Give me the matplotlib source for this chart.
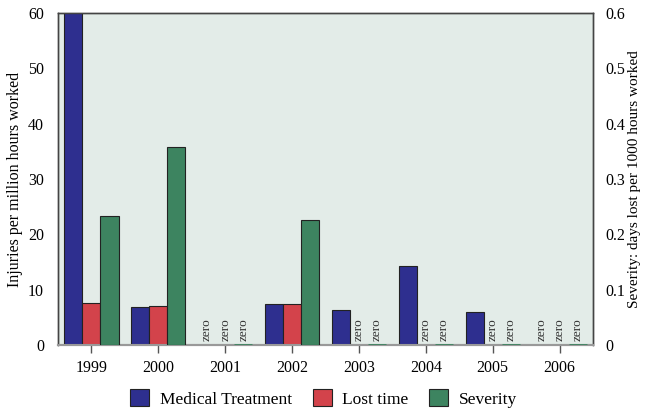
import numpy as np
import matplotlib
matplotlib.use("Agg")
import matplotlib.pyplot as plt

plt.rcParams['font.family'] = ['Liberation Serif', 'DejaVu Serif']

years = ['1999', '2000', '2001', '2002', '2003', '2004', '2005', '2006']
medical = [60, 6.9, 0, 7.5, 6.3, 14.2, 6.0, 0]
lost_time = [7.6, 7.0, 0, 7.5, 0, 0, 0, 0]
severity = [0.233, 0.358, 0, 0.226, 0, 0, 0, 0]

c_med = '#2e2f8f'
c_lost = '#d3434b'
c_sev = '#3d8460'
bg = '#e3ece8'


def draw_bars(ax, xs, vals, color, label):
    """ Bars with a thin line for zeros and a 'zero' tag """
    bars = ax.bar(xs, vals, width=w, color=color, edgecolor='#222222',
                  linewidth=0.8, label=label, zorder=3)
    for x, v, b in zip(xs, vals, bars):
        if v == 0:
            b.set_edgecolor(color)
            b.set_linewidth(2)
            b.set_zorder(5)
            ax.text(x, 0.012, 'zero', rotation=90, ha='center', va='bottom',
                    fontsize=9.5, color='#333333', zorder=4,
                    transform=ax.get_xaxis_transform())
    return bars


fig = plt.figure(figsize=(6.47, 4.09), dpi=100)
ax = fig.add_axes([0.0896, 0.1565, 0.827, 0.8115])
ax2 = ax.twinx()

x = np.arange(len(years))
w = 0.27

ax.set_facecolor(bg)
b1 = draw_bars(ax, x - w, medical, c_med, 'Medical Treatment')
b2 = draw_bars(ax, x, lost_time, c_lost, 'Lost time')
b3 = draw_bars(ax2, x + w, severity, c_sev, 'Severity')

ax.set_xlim(-0.5, 7.5)
ax.set_ylim(0, 60)
ax2.set_ylim(0, 0.6)
ax.set_yticks(range(0, 61, 10))
ax2.set_yticks([0, 0.1, 0.2, 0.3, 0.4, 0.5, 0.6])
ax2.set_yticklabels(['0', '0.1', '0.2', '0.3', '0.4', '0.5', '0.6'])
ax.set_xticks(x)
ax.set_xticklabels(years)

ax.tick_params(axis='y', length=0, labelsize=11.5, pad=10)
ax2.tick_params(axis='y', length=0, labelsize=11.5, pad=9)
ax.tick_params(axis='x', length=6, width=1, color='#555555', labelsize=11.5, pad=5)

for a in (ax, ax2):
    for s in a.spines.values():
        s.set_color('#444444')
        s.set_linewidth(1)
    a.spines['bottom'].set_color('#999999')
    a.spines['bottom'].set_linewidth(1.5)

ax.set_ylabel('Injuries per million hours worked', fontsize=11.5)
ax.yaxis.set_label_coords(-0.066, 0.5)
ax2.set_ylabel('Severity: days lost per 1000 hours worked', fontsize=11)
ax2.yaxis.set_label_coords(1.066, 0.5)

fig.legend(handles=[b1, b2, b3], loc='lower center', bbox_to_anchor=(0.5, -0.035),
           ncol=3, frameon=False, fontsize=12.5, handlelength=1.1, handleheight=1.1,
           columnspacing=1.2, handletextpad=0.6)

fig.savefig('out.png', dpi=100)
